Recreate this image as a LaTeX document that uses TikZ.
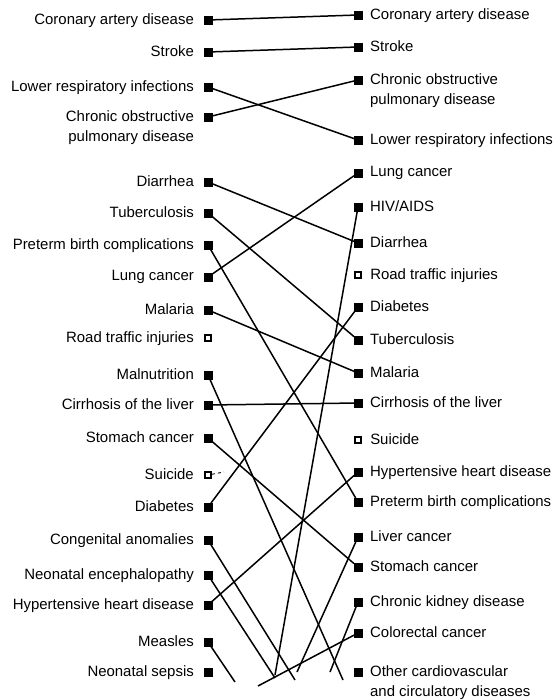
\documentclass[tikz,border=0pt]{standalone}
\usepackage{fontspec}
\setmainfont{Liberation Sans}
\usetikzlibrary{calc}

\begin{document}
\begin{tikzpicture}[x=1bp, y=-1bp, font=\fontsize{15}{21}\selectfont]
	\tikzset	{
		mk/.style={draw=black, fill=black, minimum size=7.5bp, inner sep=0pt},
		mko/.style={draw=black, fill=white, line width=1.6bp, minimum size=6.5bp, inner sep=0pt},
		link/.style={line width=1.5bp},
		stub/.style={line width=0.9bp, dashed},
		ltext/.style={anchor=north east, align=right, inner sep=0pt},
		rtext/.style={anchor=north west, align=left, inner sep=0pt},
	}
	\useasboundingbox (0,0) rectangle (557,700);

	\def\XL{208}
	\def\XR{358}

	\foreach \n/\y/\s/\t in {1/20/mk/Coronary artery disease, 2/52/mk/Stroke,
		3/87/mk/Lower respiratory infections, 4/117/mk/{Chronic obstructive\\pulmonary disease},
		5/182/mk/Diarrhea, 6/213/mk/Tuberculosis, 7/245/mk/Preterm birth complications,
		8/277/mk/Lung cancer, 9/310/mk/Malaria, 10/338/mko/Road traffic injuries,
		11/375/mk/Malnutrition, 12/405/mk/Cirrhosis of the liver, 13/438/mk/Stomach cancer,
		14/475/mko/Suicide, 15/507/mk/Diabetes, 16/540/mk/Congenital anomalies,
		17/575/mk/Neonatal encephalopathy, 18/605/mk/Hypertensive heart disease,
		19/642/mk/Measles, 20/672/mk/Neonatal sepsis} {
		\node[\s]		(l\n) at (\XL,\y) {};
		\node[ltext]	(lt\n) at ([xshift=-10bp, yshift=7bp]l\n.west) {\t};
	}

	\foreach \n/\y/\s/\t in {1/15/mk/Coronary artery disease, 2/47/mk/Stroke,
		3/80/mk/{Chronic obstructive\\pulmonary disease}, 4/140/mk/Lower respiratory infections,
		5/173/mk/Lung cancer, 6/207/mk/{HIV/AIDS}, 7/243/mk/Diarrhea,
		8/275/mko/Road traffic injuries, 9/307/mk/Diabetes, 10/340/mk/Tuberculosis,
		11/373/mk/Malaria, 12/403/mk/Cirrhosis of the liver, 13/440/mko/Suicide,
		14/472/mk/Hypertensive heart disease, 15/502/mk/Preterm birth complications,
		16/537/mk/Liver cancer, 17/567/mk/Stomach cancer, 18/602/mk/Chronic kidney disease,
		19/633/mk/Colorectal cancer, 20/672/mk/{Other cardiovascular\\and circulatory diseases}} {
		\node[\s]		(r\n) at (\XR,\y) {};
		\node[rtext]	(rt\n) at ([xshift=8bp, yshift=7bp]r\n.east) {\t};
	}

	\foreach \a/\b in {l1/r1, l2/r2, l3/r4, l4/r3, l5/r7, l6/r10, l7/r15, l8/r5,
		l9/r11, l12/r12, l13/r17, l15/r9, l18/r14} {
		\draw[link]	(\a) -- (\b);
	}

	% lines that leave the chart at the bottom
	\coordinate (e11) at (343,680);
	\coordinate (e16) at (295,680);
	\coordinate (e17) at (275,678);
	\coordinate (e19) at (235,682);
	\coordinate (f6) at (275,675);
	\coordinate (f16) at (297,672);
	\coordinate (f18) at (330,672);
	\coordinate (f19) at (258,686);
	\coordinate (s14) at (224,472);

	\foreach \a/\b in {l11/e11, l16/e16, l17/e17, l19/e19, r6/f6, r16/f16, r18/f18, r19/f19} {
		\draw[link]	(\a) -- (\b);
	}
	\draw[stub]	(l14) -- (s14);
\end{tikzpicture}
\end{document}
